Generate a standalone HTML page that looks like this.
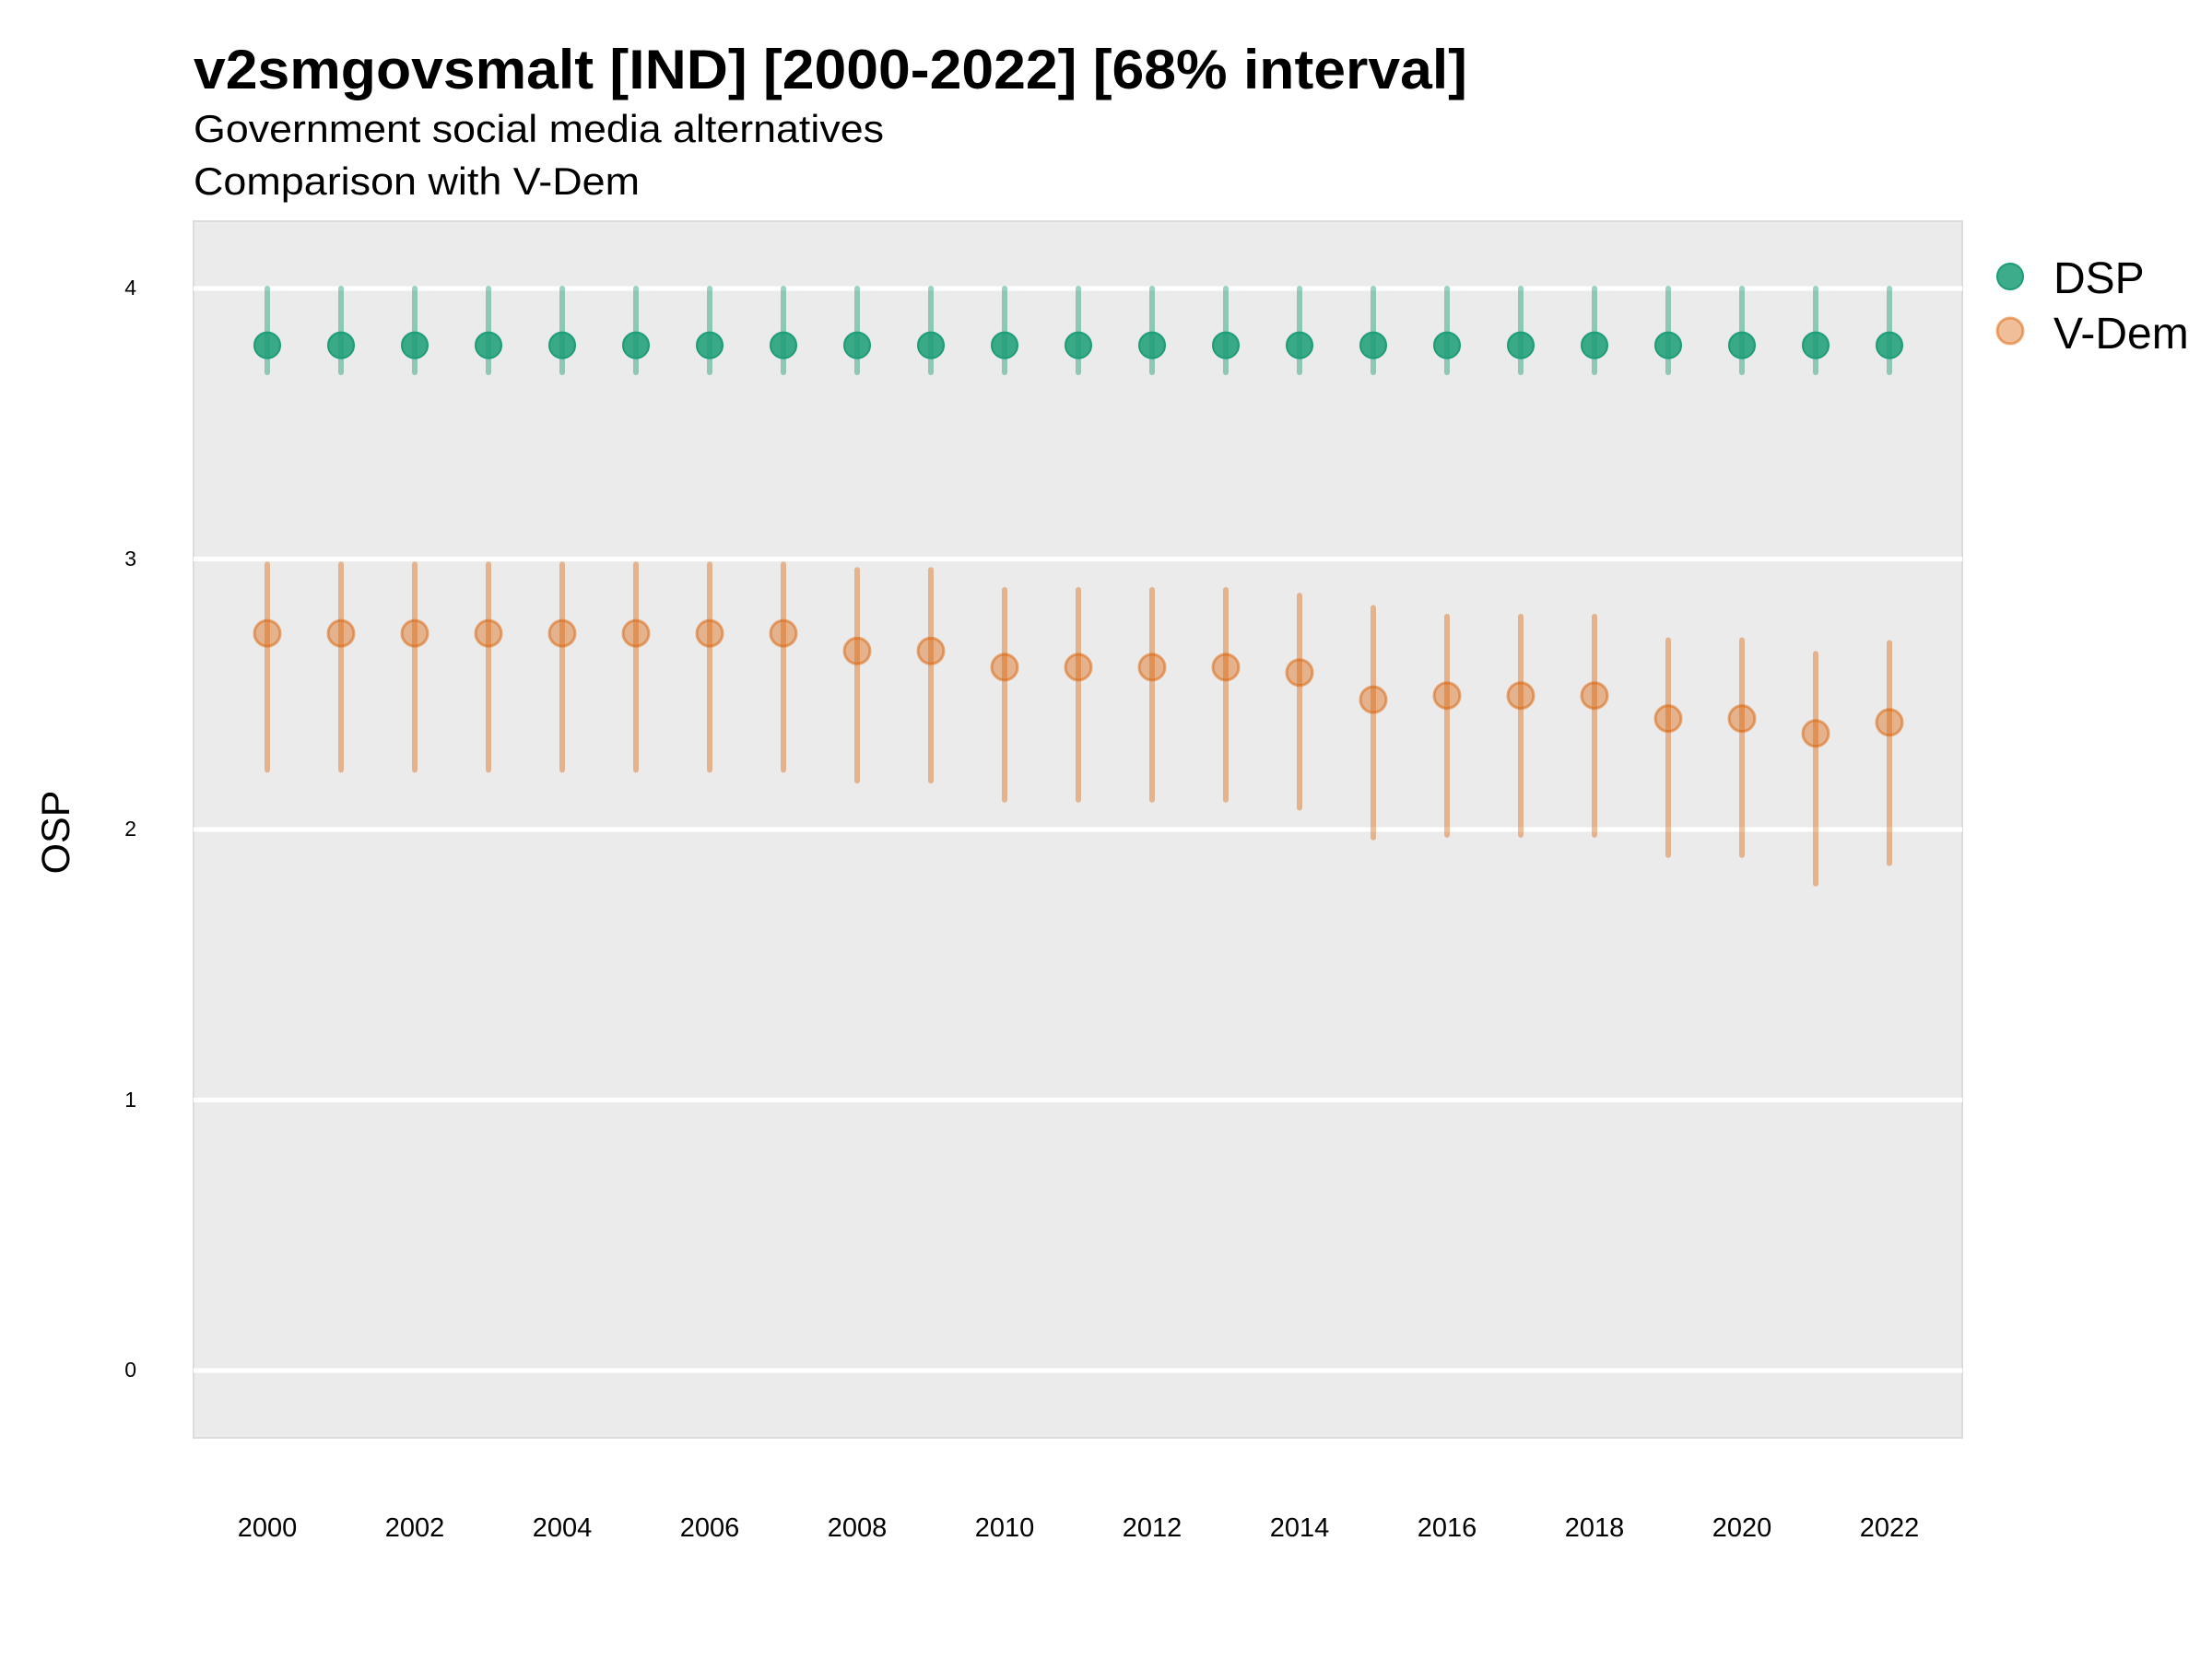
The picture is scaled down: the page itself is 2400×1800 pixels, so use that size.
<!DOCTYPE html>
<html><head><meta charset="utf-8"><style>
html,body{margin:0;padding:0;background:#fff;}
svg{display:block;font-family:"Liberation Sans",sans-serif;}
</style></head><body>
<svg id="s" width="2400" height="1800" viewBox="0 0 2400 1800" xmlns="http://www.w3.org/2000/svg">
<rect x="0" y="0" width="2400" height="1800" fill="#fff"/>
<rect x="210" y="240" width="1919" height="1320" fill="#ebebeb" stroke="#dcdcdc" stroke-width="2"/>
<g stroke="#fff" stroke-width="5">
<line x1="210" x2="2129" y1="313" y2="313"/>
<line x1="210" x2="2129" y1="606.5" y2="606.5"/>
<line x1="210" x2="2129" y1="900" y2="900"/>
<line x1="210" x2="2129" y1="1193.5" y2="1193.5"/>
<line x1="210" x2="2129" y1="1487" y2="1487"/>
</g>
<g id="marks"></g>
<text x="210" y="96" font-size="60" font-weight="bold" textLength="1382" lengthAdjust="spacingAndGlyphs">v2smgovsmalt [IND] [2000-2022] [68% interval]</text>
<text x="210" y="154" font-size="42" textLength="749" lengthAdjust="spacingAndGlyphs">Government social media alternatives</text>
<text x="210" y="211" font-size="42" textLength="484" lengthAdjust="spacingAndGlyphs">Comparison with V-Dem</text>
<g font-size="23" text-anchor="end">
<text x="148" y="320">4</text>
<text x="148" y="614">3</text>
<text x="148" y="907">2</text>
<text x="148" y="1201">1</text>
<text x="148" y="1494">0</text>
</g>
<text transform="translate(75,903) rotate(-90)" font-size="43" text-anchor="middle">OSP</text>
<g font-size="29" text-anchor="middle">
<text x="290" y="1667">2000</text><text x="450" y="1667">2002</text><text x="610" y="1667">2004</text>
<text x="770" y="1667">2006</text><text x="930" y="1667">2008</text><text x="1090" y="1667">2010</text>
<text x="1250" y="1667">2012</text><text x="1410" y="1667">2014</text><text x="1570" y="1667">2016</text>
<text x="1730" y="1667">2018</text><text x="1890" y="1667">2020</text><text x="2050" y="1667">2022</text>
</g>
<circle cx="2181" cy="300" r="14" fill="#1b9e77" fill-opacity="0.85" stroke="#1b9e77" stroke-width="2"/>
<circle cx="2181" cy="359" r="14" fill="#d95f02" fill-opacity="0.4" stroke="#d95f02" stroke-opacity="0.5" stroke-width="3"/>
<text x="2228" y="318" font-size="48">DSP</text>
<text x="2228" y="378" font-size="48">V-Dem</text>
</svg>
<script>
var g=document.getElementById('marks');
function Y(v){return 313+(4-v)*293.5;}
var vd=[];
for(var i=0;i<8;i++)vd.push([2.725,2.98,2.22]);
vd.push([2.66,2.96,2.18],[2.66,2.96,2.18]);
for(i=0;i<4;i++)vd.push([2.60,2.886,2.11]);
vd.push([2.58,2.865,2.08],[2.48,2.82,1.97]);
for(i=0;i<3;i++)vd.push([2.495,2.787,1.98]);
vd.push([2.41,2.70,1.905],[2.41,2.70,1.905],[2.355,2.65,1.80],[2.396,2.69,1.875]);
var h='';
for(i=0;i<23;i++){var x=290+80*i;
h+='<line x1="'+x+'" x2="'+x+'" y1="'+Y(4)+'" y2="'+Y(3.69)+'" stroke="#1b9e77" stroke-opacity="0.45" stroke-width="6" stroke-linecap="round"/>';
h+='<circle cx="'+x+'" cy="'+Y(3.79)+'" r="14" fill="#1b9e77" fill-opacity="0.85" stroke="#1b9e77" stroke-width="2"/>';
var d=vd[i];
h+='<line x1="'+x+'" x2="'+x+'" y1="'+Y(d[1])+'" y2="'+Y(d[2])+'" stroke="#d95f02" stroke-opacity="0.4" stroke-width="6" stroke-linecap="round"/>';
h+='<circle cx="'+x+'" cy="'+Y(d[0])+'" r="14" fill="#d95f02" fill-opacity="0.4" stroke="#d95f02" stroke-opacity="0.5" stroke-width="3"/>';
}
g.innerHTML=h;
</script>
</body></html>
